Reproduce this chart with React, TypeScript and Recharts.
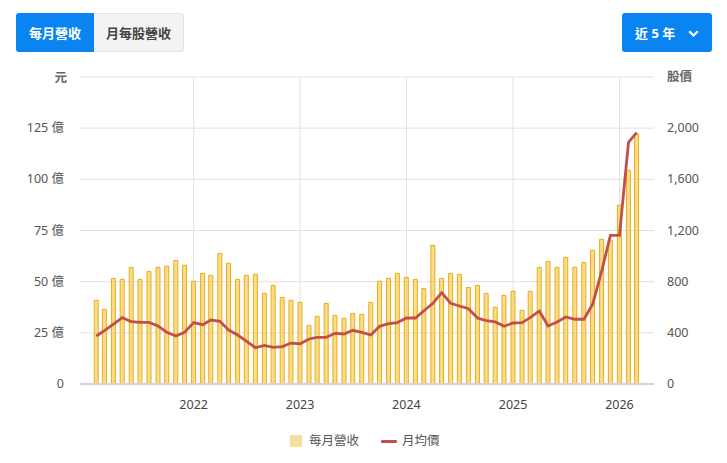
import React from "react";
import {
  Bar,
  CartesianGrid,
  ComposedChart,
  Line,
  ReferenceLine,
  XAxis,
  YAxis,
} from "recharts";

const FONT = '"Noto Sans", "Noto Sans CJK TC", sans-serif';

const months = [
  "2021-02", "2021-03", "2021-04", "2021-05", "2021-06", "2021-07", "2021-08", "2021-09", "2021-10", "2021-11", "2021-12",
  "2022-01", "2022-02", "2022-03", "2022-04", "2022-05", "2022-06", "2022-07", "2022-08", "2022-09", "2022-10", "2022-11", "2022-12",
  "2023-01", "2023-02", "2023-03", "2023-04", "2023-05", "2023-06", "2023-07", "2023-08", "2023-09", "2023-10", "2023-11", "2023-12",
  "2024-01", "2024-02", "2024-03", "2024-04", "2024-05", "2024-06", "2024-07", "2024-08", "2024-09", "2024-10", "2024-11", "2024-12",
  "2025-01", "2025-02", "2025-03", "2025-04", "2025-05", "2025-06", "2025-07", "2025-08", "2025-09", "2025-10", "2025-11", "2025-12",
  "2026-01", "2026-02", "2026-03",
];

// 億元
const revenue = [
  40.9, 36.5, 51.6, 51.1, 57, 51.1, 55, 57, 57.5, 60.4, 58,
  50.2, 54, 53.1, 63.8, 59, 51.1, 53.1, 53.6, 44.3, 48.2, 42.3, 40.9,
  39.9, 28.7, 33.1, 39.4, 33.5, 32.1, 34.5, 34, 39.9, 50.2, 51.6, 54.1,
  52.1, 51.1, 46.7, 67.7, 51.6, 54.1, 53.6, 47.2, 48.2, 44.3, 37.5, 43.3,
  45.3, 36, 45.3, 57, 59.9, 57, 61.9, 57, 59.4, 65.3, 70.7, 70.2,
  87.3, 104.4, 122,
];

const price = [
  375, 417, 469, 519, 487, 482, 482, 453, 404, 375, 404,
  480, 464, 500, 490, 422, 383, 336, 284, 302, 287, 292, 320,
  315, 352, 365, 365, 396, 391, 420, 404, 383, 451, 472, 480,
  516, 516, 573, 631, 714, 631, 610, 589, 516, 495, 485, 451,
  477, 480, 519, 571, 453, 485, 524, 506, 506, 623, 883, 1162,
  1162, 1889, 1965,
];

const yearTicks = [2022, 2023, 2024, 2025, 2026];
const revenueTicks = [0, 25, 50, 75, 100, 125, 150];
const priceTicks = [0, 400, 800, 1200, 1600, 2000, 2400];

const toTime = (month: string) => {
  const [y, m] = month.split("-").map(Number);
  return Date.UTC(y, m - 1, 1);
};

const DAY = 86400000;
const tableData = months.map((month, i) => ({
  time: toTime(month),
  revenue: revenue[i],
  price: price[i],
}));
const xDomain = [
  toTime(months[0]) - 56 * DAY,
  toTime(months[months.length - 1]) + 59.5 * DAY,
];

const LeftTick = ({ x, y, payload }: any) => {
  const top = payload.value === 150;
  return (
    <text x={top ? x + 5 : x + 2} y={top ? y + 5 : y + 4} textAnchor="end" fontSize={12.5} fontFamily={FONT} fontWeight={top ? 700 : 400} fill={top ? "#666" : "#555"}>
      {top ? "元" : payload.value === 0 ? "0" : `${payload.value} 億`}
    </text>
  );
};

const RightTick = ({ x, y, payload }: any) => {
  const top = payload.value === 2400;
  return (
    <text x={x - 2} y={y + 4} textAnchor="start" fontSize={12.5} fontFamily={FONT} fontWeight={top ? 700 : 400} fill={top ? "#666" : "#555"}>
      {top ? "股價" : payload.value.toLocaleString("en-US")}
    </text>
  );
};

const btn: React.CSSProperties = {
  position: "absolute",
  top: 13,
  height: 39,
  boxSizing: "border-box",
  display: "flex",
  alignItems: "center",
  justifyContent: "center",
  fontFamily: FONT,
  fontSize: 13,
  fontWeight: 700,
};

export default function App() {
  return (
    <div style={{ position: "absolute", left: 0, top: 0, width: 727, height: 463, background: "#fff", overflow: "hidden" }}>
      <div style={{ ...btn, left: 16, width: 78, background: "#0a84f0", color: "#fff", borderRadius: "3px 0 0 3px" }}>每月營收</div>
      <div style={{ ...btn, left: 94, width: 90, background: "#f3f3f3", color: "#444", border: "1px solid #e4e4e4", borderLeft: "none", borderRadius: "0 3px 3px 0" }}>月每股營收</div>
      <div style={{ ...btn, left: 622, width: 90, background: "#0a84f0", color: "#fff", borderRadius: 3, justifyContent: "flex-start", paddingLeft: 13 }}>
        近 5 年
        <svg width="11" height="8" style={{ marginLeft: 13, marginTop: 2 }}>
          <path d="M1.2 1.2 L5.5 5.5 L9.8 1.2" fill="none" stroke="#fff" strokeWidth="2.2" />
        </svg>
      </div>

      <ComposedChart
        width={727}
        height={463}
        data={tableData}
        margin={{ top: 77, right: 0, bottom: 0, left: 0 }}
        style={{ position: "absolute", left: 0, top: 0 }}
      >
        <CartesianGrid yAxisId="left" stroke="#e2e2e2" strokeWidth={1} syncWithTicks />
        <XAxis
          dataKey="time"
          type="number"
          scale="linear"
          domain={xDomain}
          allowDataOverflow
          ticks={yearTicks.map((y) => Date.UTC(y, 0, 1))}
          tickFormatter={(t: number) => String(new Date(t).getUTCFullYear())}
          height={79}
          axisLine={false}
          tickLine={false}
          tickMargin={10}
          tick={{ fontSize: 12.5, fontFamily: FONT, fill: "#444" }}
        />
        <YAxis
          yAxisId="left"
          domain={[0, 150]}
          ticks={revenueTicks}
          width={80}
          interval={0}
          axisLine={false}
          tickLine={false}
          tickSize={16}
          tick={<LeftTick />}
        />
        <YAxis
          yAxisId="right"
          orientation="right"
          domain={[0, 2400]}
          ticks={priceTicks}
          width={73}
          interval={0}
          axisLine={false}
          tickLine={false}
          tickSize={13}
          tick={<RightTick />}
        />
        <Bar
          yAxisId="left"
          dataKey="revenue"
          barSize={4}
          fill="#fbcf5c"
          fillOpacity={0.72}
          stroke="#e4ae1e"
          strokeWidth={1}
          isAnimationActive={false}
        />
        <ReferenceLine yAxisId="left" y={0} stroke="#d8d0dc" strokeWidth={2} />
        <Line
          yAxisId="right"
          dataKey="price"
          type="linear"
          stroke="#c24f4a"
          strokeWidth={2.8}
          dot={false}
          isAnimationActive={false}
        />
      </ComposedChart>

      <div style={{ position: "absolute", left: 290, top: 435, width: 12, height: 12, background: "#f5dfa0" }} />
      <div style={{ position: "absolute", left: 309, top: 432, fontFamily: FONT, fontSize: 12.5, lineHeight: "18px", color: "#555" }}>每月營收</div>
      <div style={{ position: "absolute", left: 381, top: 440, width: 16, height: 2.5, background: "#c24f4a", borderRadius: 1 }} />
      <div style={{ position: "absolute", left: 402, top: 432, fontFamily: FONT, fontSize: 12.5, lineHeight: "18px", color: "#555" }}>月均價</div>
    </div>
  );
}
